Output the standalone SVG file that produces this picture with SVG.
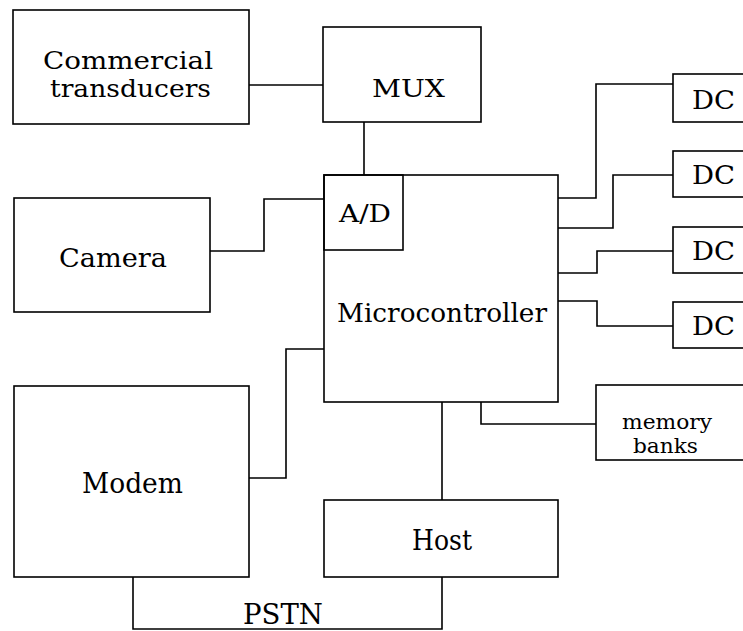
<svg xmlns="http://www.w3.org/2000/svg" width="743" height="631" viewBox="0 0 743 631">
<style>
.box{fill:none;stroke:#000;stroke-width:1.6}
.wire{fill:none;stroke:#000;stroke-width:1.6}
.t{font-family:"DejaVu Serif","Liberation Serif",serif;fill:#000}
</style>
<rect width="743" height="631" fill="#fff"/>
<g id="connectors">
<path class="wire" d="M249,85 H323"/>
<path class="wire" d="M364,122 V175"/>
<path class="wire" d="M210,251 H264 V199 H324"/>
<path class="wire" d="M249,478 H286 V349 H324"/>
<path class="wire" d="M442,402 V500"/>
<path class="wire" d="M481,402 V424 H596"/>
<path class="wire" d="M133,577 V629 H442 V577"/>
<path class="wire" d="M558,198 H596 V84 H673"/>
<path class="wire" d="M558,228 H613 V175 H673"/>
<path class="wire" d="M558,273 H597 V251 H673"/>
<path class="wire" d="M558,301 H597 V326 H673"/>
</g>
<g id="commercial">
<rect class="box" x="13" y="10" width="236" height="114"/>
<text class="t" x="43" y="69" font-size="24" textLength="170" lengthAdjust="spacingAndGlyphs">Commercial</text>
<text class="t" x="50" y="97" font-size="24" textLength="161" lengthAdjust="spacingAndGlyphs">transducers</text>
</g>
<g id="mux">
<rect class="box" x="323" y="27" width="158" height="95"/>
<text class="t" x="372" y="97" font-size="24" textLength="73" lengthAdjust="spacingAndGlyphs">MUX</text>
</g>
<g id="microcontroller">
<rect class="box" x="324" y="175" width="234" height="227"/>
<text class="t" x="337" y="322" font-size="26" textLength="210" lengthAdjust="spacingAndGlyphs">Microcontroller</text>
</g>
<g id="ad">
<rect class="box" x="324" y="175" width="79" height="75"/>
<text class="t" x="339" y="222" font-size="24" textLength="52" lengthAdjust="spacingAndGlyphs">A/D</text>
</g>
<g id="camera">
<rect class="box" x="14" y="198" width="196" height="114"/>
<text class="t" x="59" y="267" font-size="26" textLength="108" lengthAdjust="spacingAndGlyphs">Camera</text>
</g>
<g id="modem">
<rect class="box" x="14" y="386" width="235" height="191"/>
<text class="t" x="82" y="493" font-size="27" textLength="101" lengthAdjust="spacingAndGlyphs">Modem</text>
</g>
<g id="host">
<rect class="box" x="324" y="500" width="234" height="77"/>
<text class="t" x="412" y="550" font-size="27" textLength="60" lengthAdjust="spacingAndGlyphs">Host</text>
</g>
<g id="memory">
<rect class="box" x="596" y="385" width="160" height="75"/>
<text class="t" x="622" y="429" font-size="20" textLength="90" lengthAdjust="spacingAndGlyphs">memory</text>
<text class="t" x="633" y="453" font-size="20" textLength="65" lengthAdjust="spacingAndGlyphs">banks</text>
</g>
<g id="dc1">
<rect class="box" x="673" y="74" width="80" height="48"/>
<text class="t" x="692" y="109" font-size="26" textLength="43" lengthAdjust="spacingAndGlyphs">DC</text>
</g>
<g id="dc2">
<rect class="box" x="673" y="151" width="80" height="46"/>
<text class="t" x="692" y="184" font-size="26" textLength="43" lengthAdjust="spacingAndGlyphs">DC</text>
</g>
<g id="dc3">
<rect class="box" x="673" y="227" width="80" height="46"/>
<text class="t" x="692" y="260" font-size="26" textLength="43" lengthAdjust="spacingAndGlyphs">DC</text>
</g>
<g id="dc4">
<rect class="box" x="673" y="302" width="80" height="46"/>
<text class="t" x="692" y="335" font-size="26" textLength="43" lengthAdjust="spacingAndGlyphs">DC</text>
</g>
<g id="pstn">
<text class="t" x="243" y="624" font-size="27" textLength="80" lengthAdjust="spacingAndGlyphs">PSTN</text>
</g>
</svg>
